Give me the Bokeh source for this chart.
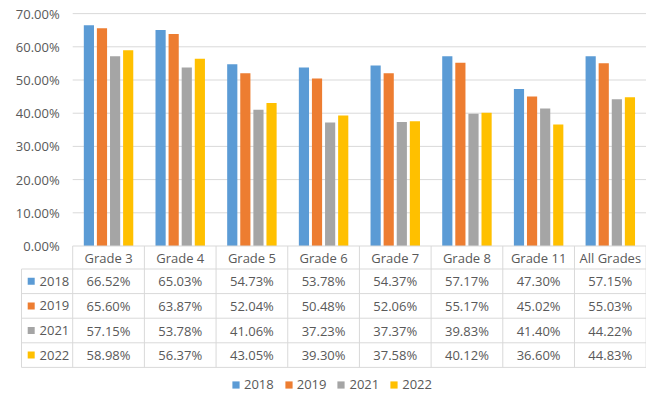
from bokeh.plotting import figure
from bokeh.models import (ColumnDataSource, FixedTicker, PrintfTickFormatter, Legend,
                          LegendItem, Range1d)
from bokeh.transform import dodge
from bokeh.core.properties import value
from bokeh.embed import file_html
from bokeh.resources import INLINE

# ---------------- data ----------------
categories = ["Grade 3", "Grade 4", "Grade 5", "Grade 6", "Grade 7", "Grade 8", "Grade 11", "All Grades"]
years = ["2018", "2019", "2021", "2022"]
v2018 = [66.52, 65.03, 54.73, 53.78, 54.37, 57.17, 47.30, 57.15]
v2019 = [65.60, 63.87, 52.04, 50.48, 52.06, 55.17, 45.02, 55.03]
v2021 = [57.15, 53.78, 41.06, 37.23, 37.37, 39.83, 41.40, 44.22]
v2022 = [58.98, 56.37, 43.05, 39.30, 37.58, 40.12, 36.60, 44.83]
y_ticks = [0, 10, 20, 30, 40, 50, 60, 70]

series = [v2018, v2019, v2021, v2022]
colors = ["#5B9BD5", "#ED7D31", "#A5A5A5", "#FFC000"]

# ---------------- layout constants ----------------
W, H = 646, 393
FONT = "Open Sans"
FS = "13px"
TXT = "#595959"
LINE = "#D9D9D9"

x_start, x_end = -1.0073, 8.005
y_start, y_end = -44.43, 73.95
left_edge = -0.714
header_bottom = -6.93
row_h = 7.41
row_bounds = [header_bottom - i * row_h for i in range(len(years) + 1)]
table_bottom = row_bounds[-1]

n = len(categories)
xc = [i + 0.5 for i in range(n)]

src = ColumnDataSource(dict(x=xc, cat=categories,
                            **{f"y{y}": s for y, s in zip(years, series)}))

p = figure(width=W, height=H, output_backend="svg", toolbar_location=None,
           x_range=Range1d(x_start, x_end), y_range=Range1d(y_start, y_end),
           x_axis_location=None, min_border_left=0, min_border_right=0,
           min_border_top=0, min_border_bottom=0)
p.outline_line_color = None
p.xgrid.visible = False
p.ygrid.visible = False

# y axis
yax = p.yaxis[0]
yax.fixed_location = 0
yax.ticker = FixedTicker(ticks=y_ticks)
yax.formatter = PrintfTickFormatter(format="%.2f%%")
yax.axis_line_color = None
yax.major_tick_line_color = None
yax.minor_tick_line_color = None
yax.major_tick_out = 0
yax.major_tick_in = 0
yax.major_label_standoff = 13
yax.major_label_text_font = FONT
yax.major_label_text_font_size = FS
yax.major_label_text_color = TXT

# gridlines
gt = y_ticks[1:]
p.segment(x0=[0] * len(gt), x1=[n] * len(gt), y0=gt, y1=gt, line_color=LINE, line_width=1)

# bars
offsets = [-0.274, -0.0915, 0.0915, 0.274]
renderers = []
for y, c, off in zip(years, colors, offsets):
    r = p.vbar(x=dodge("x", off, range=p.x_range), top=f"y{y}", width=0.142, bottom=0,
               source=src, fill_color=c, line_color=None)
    renderers.append(r)

# table lines
hy = [0] + row_bounds
hx0 = [0] + [left_edge] * len(row_bounds)
p.segment(x0=hx0, x1=[n] * len(hy), y0=hy, y1=hy, line_color=LINE, line_width=1)
vx = [left_edge] + list(range(n + 1))
vy0 = [header_bottom] + [0] * (n + 1)
p.segment(x0=vx, x1=vx, y0=vy0, y1=[table_bottom] * len(vx), line_color=LINE, line_width=1)

# header text
hmid = header_bottom / 2
p.text(x=xc, y=[hmid] * n, text=categories, text_align="center", text_baseline="middle",
       text_font=value(FONT), text_font_size=FS, text_color=TXT)

# rows
for k, (yname, s, c) in enumerate(zip(years, series, colors)):
    mid = (row_bounds[k] + row_bounds[k + 1]) / 2
    p.text(x=xc, y=[mid] * n, text=[f"{v:.2f}%" for v in s], text_align="center",
           text_baseline="middle", text_font=value(FONT), text_font_size=FS, text_color=TXT)
    p.scatter(x=[-0.579], y=[mid], marker="square", size=7, fill_color=c, line_color=None)
    p.text(x=[-0.463], y=[mid], text=[yname], text_align="left", text_baseline="middle",
           text_font=value(FONT), text_font_size=FS, text_color=TXT)

legend = Legend(items=[LegendItem(label=y, renderers=[r]) for y, r in zip(years, renderers)],
                location=(231, 0), orientation="horizontal", glyph_width=9, glyph_height=9,
                label_standoff=4, spacing=10, padding=0, margin=0, label_height=9,
                label_text_font=FONT, label_text_font_size=FS, label_text_color=TXT,
                border_line_color=None, background_fill_alpha=0)
p.add_layout(legend)

open("out.html", "w").write(file_html(p, INLINE))
